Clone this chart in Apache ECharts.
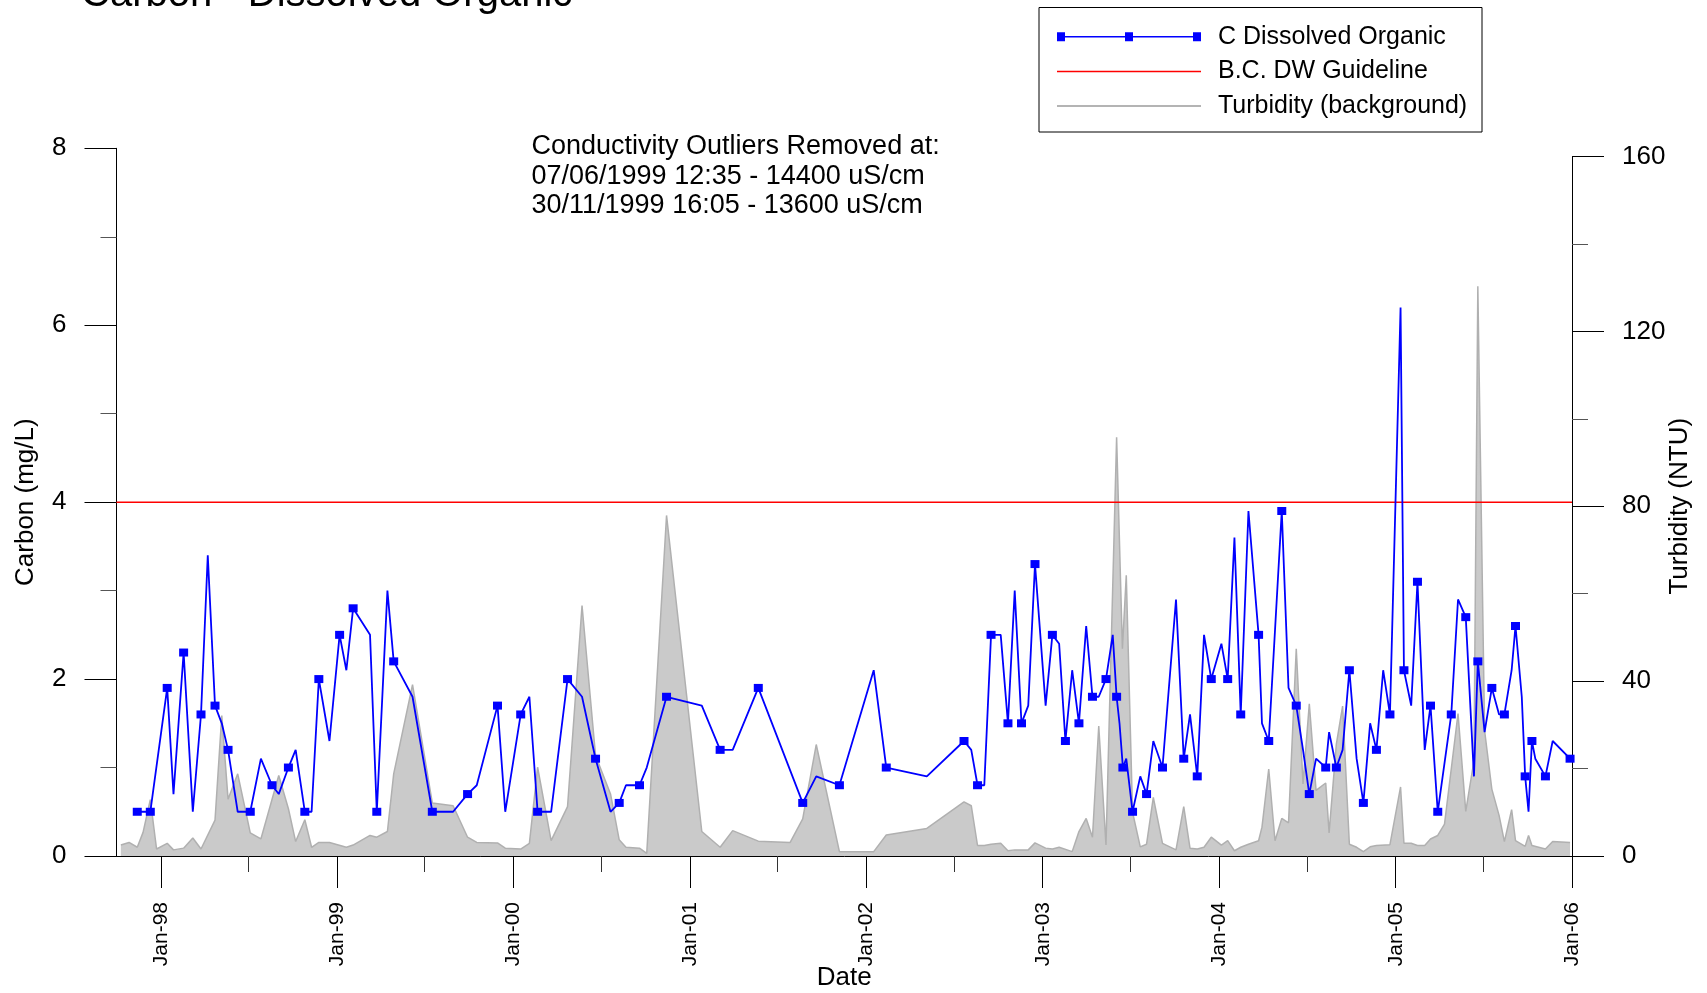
<!DOCTYPE html>
<html>
<head>
<meta charset="utf-8">
<script src="https://cdn.jsdelivr.net/npm/echarts@6.0.0/dist/echarts.min.js"></script>
<style>
html,body{margin:0;padding:0;background:#fff;}
#chart{width:1707px;height:993px;}
</style>
</head>
<body>
<div id="chart"></div>
<script>
// ---------- DATA ----------
const carbonDates = ['1997-11-13','1997-12-10','1998-01-14','1998-01-27','1998-02-17','1998-03-08','1998-03-25','1998-04-08','1998-04-23','1998-05-07','1998-05-20','1998-06-09','1998-07-05','1998-07-27','1998-08-19','1998-09-02','1998-09-22','1998-10-07','1998-10-26','1998-11-09','1998-11-24','1998-12-16','1999-01-06','1999-01-20','1999-02-03','1999-03-10','1999-03-24','1999-04-15','1999-04-28','1999-06-06','1999-07-17','1999-08-29','1999-09-28','1999-10-17','1999-11-29','1999-12-15','2000-01-16','2000-02-03','2000-02-20','2000-03-19','2000-04-22','2000-05-22','2000-06-19','2000-07-20','2000-08-07','2000-08-21','2000-09-18','2000-10-03','2000-11-13','2001-01-25','2001-03-04','2001-03-30','2001-05-22','2001-08-22','2001-09-19','2001-11-06','2002-01-16','2002-02-11','2002-05-06','2002-07-22','2002-08-06','2002-08-19','2002-09-02','2002-09-16','2002-10-06','2002-10-21','2002-11-04','2002-11-18','2002-12-02','2002-12-16','2003-01-07','2003-01-21','2003-02-04','2003-02-17','2003-03-03','2003-03-17','2003-04-01','2003-04-14','2003-04-27','2003-05-12','2003-05-26','2003-06-03','2003-06-09','2003-06-16','2003-06-23','2003-07-06','2003-07-22','2003-08-04','2003-08-18','2003-09-06','2003-10-04','2003-10-20','2003-11-02','2003-11-17','2003-12-01','2003-12-16','2004-01-06','2004-01-19','2004-02-02','2004-02-15','2004-03-02','2004-03-23','2004-03-30','2004-04-13','2004-05-10','2004-05-24','2004-06-09','2004-06-23','2004-07-06','2004-07-20','2004-08-09','2004-08-16','2004-08-31','2004-09-13','2004-09-27','2004-10-12','2004-10-26','2004-11-09','2004-11-22','2004-12-06','2004-12-20','2005-01-11','2005-01-18','2005-02-02','2005-02-15','2005-03-02','2005-03-14','2005-03-29','2005-04-26','2005-05-10','2005-05-26','2005-06-12','2005-06-20','2005-07-04','2005-07-19','2005-08-03','2005-08-14','2005-08-29','2005-09-06','2005-09-19','2005-09-26','2005-10-03','2005-10-10','2005-10-17','2005-11-07','2005-11-22','2005-12-28'];
const carbonValues = [0.5,0.5,1.9,0.7,2.3,0.5,1.6,3.4,1.7,1.5,1.2,0.5,0.5,1.1,0.8,0.7,1.0,1.2,0.5,0.5,2.0,1.3,2.5,2.1,2.8,2.5,0.5,3.0,2.2,1.8,0.5,0.5,0.7,0.8,1.7,0.5,1.6,1.8,0.5,0.5,2.0,1.8,1.1,0.5,0.6,0.8,0.8,1.0,1.8,1.7,1.2,1.2,1.9,0.6,0.9,0.8,2.1,1.0,0.9,1.3,1.2,0.8,0.8,2.5,2.5,1.5,3.0,1.5,1.7,3.3,1.7,2.5,2.4,1.3,2.1,1.5,2.6,1.8,1.8,2.0,2.5,1.8,1.5,1.0,1.1,0.5,0.9,0.7,1.3,1.0,2.9,1.1,1.6,0.9,2.5,2.0,2.4,2.0,3.6,1.6,3.9,2.5,1.5,1.3,3.9,1.9,1.7,1.2,0.7,1.1,1.0,1.4,1.0,1.2,2.1,1.1,0.6,1.5,1.2,2.1,1.6,6.2,2.1,1.7,3.1,1.2,1.7,0.5,1.6,2.9,2.7,0.9,2.2,1.4,1.9,1.6,1.6,2.1,2.6,1.8,0.9,0.5,1.3,1.1,0.9,1.3,1.1];
// 1 = sample drawn with a square marker, 0 = vertex without marker
const carbonMarked = [1,1,1,0,1,0,1,0,1,0,1,0,1,0,1,0,1,0,1,0,1,0,1,0,1,0,1,0,1,0,1,0,1,0,1,0,1,0,1,0,1,0,1,0,1,0,1,0,1,0,1,0,1,1,0,1,0,1,0,1,0,1,0,1,0,1,0,1,0,1,0,1,0,1,0,1,0,1,0,1,0,1,0,1,0,1,0,1,0,1,0,1,0,1,0,1,0,1,0,1,0,1,0,1,1,0,1,0,1,0,1,0,1,0,1,0,1,0,1,0,1,0,1,0,1,0,1,1,1,0,1,0,1,0,1,0,1,0,1,0,1,0,1,0,1,0,1];

const turbDates = ['1997-10-10','1997-10-27','1997-11-13','1997-11-25','1997-12-10','1997-12-23','1998-01-14','1998-01-27','1998-02-17','1998-03-08','1998-03-25','1998-04-23','1998-05-07','1998-05-20','1998-06-09','1998-07-05','1998-07-27','1998-09-02','1998-09-22','1998-10-07','1998-10-26','1998-11-09','1998-11-24','1998-12-16','1999-01-20','1999-02-03','1999-03-10','1999-03-24','1999-04-15','1999-04-28','1999-06-06','1999-07-17','1999-08-29','1999-09-28','1999-10-17','1999-11-29','1999-12-15','2000-01-16','2000-02-03','2000-02-20','2000-03-19','2000-04-22','2000-05-22','2000-06-19','2000-07-20','2000-08-07','2000-08-21','2000-09-18','2000-10-03','2000-11-13','2001-01-25','2001-03-04','2001-03-30','2001-05-22','2001-07-27','2001-08-22','2001-09-19','2001-11-06','2002-01-16','2002-02-11','2002-05-06','2002-07-22','2002-08-06','2002-08-19','2002-09-02','2002-09-16','2002-10-06','2002-10-21','2002-11-04','2002-12-02','2002-12-16','2003-01-07','2003-01-21','2003-02-04','2003-03-03','2003-03-17','2003-04-01','2003-04-14','2003-04-27','2003-05-12','2003-06-03','2003-06-15','2003-06-23','2003-07-06','2003-07-22','2003-08-04','2003-08-18','2003-09-06','2003-10-04','2003-10-20','2003-11-02','2003-11-17','2003-12-01','2003-12-16','2004-01-06','2004-01-19','2004-02-02','2004-02-15','2004-03-02','2004-03-23','2004-03-30','2004-04-13','2004-04-26','2004-05-10','2004-05-24','2004-06-09','2004-06-23','2004-07-06','2004-07-20','2004-08-09','2004-08-16','2004-08-31','2004-09-13','2004-09-27','2004-10-12','2004-10-26','2004-11-09','2004-11-22','2004-12-20','2005-01-11','2005-01-18','2005-02-02','2005-02-15','2005-03-02','2005-03-14','2005-03-29','2005-04-12','2005-05-10','2005-05-26','2005-06-12','2005-06-20','2005-07-04','2005-07-19','2005-08-03','2005-08-14','2005-08-29','2005-09-06','2005-09-26','2005-10-03','2005-10-10','2005-11-07','2005-11-22','2005-12-28'];
const turbValues = [2.5,3.1,2.0,5.4,12.9,1.6,2.9,1.4,1.8,4.1,1.6,8.2,32.1,13.0,18.8,5.3,3.9,18.4,10.8,3.3,8.3,2.0,3.1,3.1,2.0,2.5,4.7,4.3,5.6,18.8,39.2,12.1,11.5,4.3,3.1,3.0,1.8,1.6,2.9,20.3,3.5,11.3,57.3,23.0,14.2,3.7,2.0,1.8,0.6,77.9,5.6,2.0,5.8,3.4,3.1,8.5,25.5,1.0,1.0,4.8,6.3,12.4,11.5,2.4,2.4,2.7,2.9,1.2,1.4,1.4,3.0,1.8,1.6,2.0,1.0,5.6,8.6,4.3,29.7,2.5,95.8,47.4,64.2,10.0,2.1,2.7,13.4,2.9,1.4,11.3,1.8,1.6,2.0,4.3,2.5,3.5,1.2,2.0,2.7,3.5,6.6,19.9,3.5,8.6,7.6,47.4,16.5,34.8,15.0,16.7,5.3,25.6,34.3,2.7,2.0,1.0,2.1,2.4,2.6,15.8,2.9,2.9,2.4,2.4,3.9,4.7,7.3,32.6,10.2,21.8,130.3,28.7,15.3,9.3,3.3,10.6,3.5,2.2,4.7,2.4,1.6,3.3,3.1];

const guidelineValue = 4;          // B.C. drinking water guideline (mg/L)
const xStart = '1997-10-01';
const xEnd = '2006-01-01';
const majorTickYears = [1998,1999,2000,2001,2002,2003,2004,2005,2006];
const minorTickYears = [1998,1999,2000,2001,2002,2003,2004,2005];
const titleText = 'Carbon - Dissolved Organic';
const noteLines = ['Conductivity Outliers Removed at:','07/06/1999 12:35 - 14400 uS/cm','30/11/1999 16:05 - 13600 uS/cm'];

// ---------- BUILD ----------
const FONT = '"Liberation Sans", Arial, Helvetica, sans-serif';
function toTime(s){ const p = s.split('-').map(Number); return Date.UTC(p[0], p[1]-1, p[2]); }
const xMin = toTime(xStart), xMax = toTime(xEnd);
const janTicks = majorTickYears.map(y => Date.UTC(y,0,1));
const julTicks = minorTickYears.map(y => Date.UTC(y,6,1));

const carbonData = carbonDates.map((d,i) => ({
  value: [toTime(d), carbonValues[i]],
  symbol: carbonMarked[i] ? 'rect' : 'none'
}));
const turbData = turbDates.map((d,i) => [toTime(d), turbValues[i]]);
const guideData = [[xMin, guidelineValue],[xMax, guidelineValue]];

const carbonIcon = 'path://M0,0H8V9H0Z M68,0H76V9H68Z M136,0H144V9H136Z M0,3.7H144V5.3H0Z';

const chart = echarts.init(document.getElementById('chart'), null, {renderer:'canvas'});
chart.setOption({
  animation: false,
  backgroundColor: '#fff',
  title: {
    text: titleText, left: 81, top: -25, padding: 0,
    textStyle: {fontFamily: FONT, fontSize: 40, fontWeight: 'normal', color: '#000', lineHeight: 40}
  },
  graphic: [
    {type:'rect', shape:{x:1039, y:7.5, width:443, height:124.5}, style:{fill:'none', stroke:'#000', lineWidth:1}, z:10},
    {type:'text', x:531.5, y:131.5, z:10, style:{text: noteLines.join('\n'), fontSize:27, fontFamily: FONT, fill:'#000', lineHeight:29.8, verticalAlign:'top'}}
  ],
  legend: {
    orient: 'vertical', left: 1057, top: 24.3, padding: 0, itemGap: 9.6,
    itemWidth: 144, itemHeight: 9, selectedMode: false,
    textStyle: {fontFamily: FONT, fontSize: 25, color:'#000', lineHeight: 25, padding:[0,0,0,12]},
    data: [
      {name:'C Dissolved Organic', icon: carbonIcon, itemStyle:{color:'#0000ff', borderWidth:0}},
      {name:'B.C. DW Guideline', icon: 'path://M0,0H144V1.5H0Z', itemStyle:{color:'#ff0000', borderWidth:0}},
      {name:'Turbidity (background)', icon: 'path://M0,0H144V1.8H0Z', itemStyle:{color:'#b4b4b4', borderWidth:0}}
    ]
  },
  grid: [
    {left: 116.5, right: 135, top: 148.3, bottom: 137, containLabel:false, outerBoundsMode:'none'},
    {left: 116.5, right: 135, top: 156.5, bottom: 137, containLabel:false, outerBoundsMode:'none'}
  ],
  xAxis: [
    {
      type:'value', gridIndex:0, min:xMin, max:xMax, position:'bottom',
      axisLine:{show:true, onZero:false, lineStyle:{color:'#000', width:1}},
      axisTick:{show:true, customValues: janTicks, length:32, lineStyle:{color:'#000', width:1}},
      axisLabel:{show:true, customValues: janTicks, rotate:90, margin:46, fontFamily:FONT, fontSize:21, color:'#000',
        formatter: v => 'Jan-' + String(new Date(v).getUTCFullYear()).slice(2)},
      splitLine:{show:false}, minorTick:{show:false},
      name:'Date', nameLocation:'middle', nameGap:109, nameMoveOverlap:false,
      nameTextStyle:{fontFamily:FONT, fontSize:26, color:'#000', lineHeight:26}
    },
    {
      type:'value', gridIndex:0, min:xMin, max:xMax, position:'bottom',
      axisLine:{show:false, onZero:false},
      axisTick:{show:true, customValues: julTicks, length:16, lineStyle:{color:'#333', width:1}},
      axisLabel:{show:false}, splitLine:{show:false}
    },
    {type:'value', gridIndex:1, min:xMin, max:xMax, show:false, splitLine:{show:false}}
  ],
  yAxis: [
    {
      type:'value', gridIndex:0, min:0, max:8, interval:2, position:'left',
      axisLine:{show:true, onZero:false, lineStyle:{color:'#000', width:1}},
      axisTick:{show:true, length:32, lineStyle:{color:'#000', width:1}},
      minorTick:{show:true, splitNumber:2, length:16, lineStyle:{color:'#555', width:1}},
      axisLabel:{margin:50, fontFamily:FONT, fontSize:26, color:'#000'},
      splitLine:{show:false},
      name:'Carbon (mg/L)', nameLocation:'middle', nameGap:78, nameMoveOverlap:false,
      nameTextStyle:{fontFamily:FONT, fontSize:26, color:'#000', lineHeight:26}
    },
    {
      type:'value', gridIndex:1, min:0, max:160, interval:40, position:'right',
      axisLine:{show:true, onZero:false, lineStyle:{color:'#000', width:1}},
      axisTick:{show:true, length:32, lineStyle:{color:'#000', width:1}},
      minorTick:{show:true, splitNumber:2, length:16, lineStyle:{color:'#555', width:1}},
      axisLabel:{margin:50, fontFamily:FONT, fontSize:26, color:'#000'},
      splitLine:{show:false},
      name:'Turbidity (NTU)', nameLocation:'middle', nameGap:94.5, nameMoveOverlap:false,
      nameTextStyle:{fontFamily:FONT, fontSize:26, color:'#000', lineHeight:26}
    }
  ],
  series: [
    {
      name:'Turbidity (background)', type:'line', xAxisIndex:2, yAxisIndex:1,
      data: turbData, showSymbol:false, symbol:'none', z:1,
      color:'#b4b4b4',
      lineStyle:{color:'#b0b0b0', width:1.5},
      areaStyle:{color:'#cacaca', opacity:1}
    },
    {
      name:'B.C. DW Guideline', type:'line', xAxisIndex:0, yAxisIndex:0,
      data: guideData, symbol:'none', z:3, color:'#ff0000',
      lineStyle:{color:'#ff0000', width:1.5}
    },
    {
      name:'C Dissolved Organic', type:'line', xAxisIndex:0, yAxisIndex:0,
      data: carbonData, symbol:'rect', symbolSize:[9,8], showSymbol:true, showAllSymbol:true, z:4,
      color:'#0000ff',
      itemStyle:{color:'#0000ff'},
      lineStyle:{color:'#0000ff', width:1.8}
    }
  ]
});
</script>
</body>
</html>
